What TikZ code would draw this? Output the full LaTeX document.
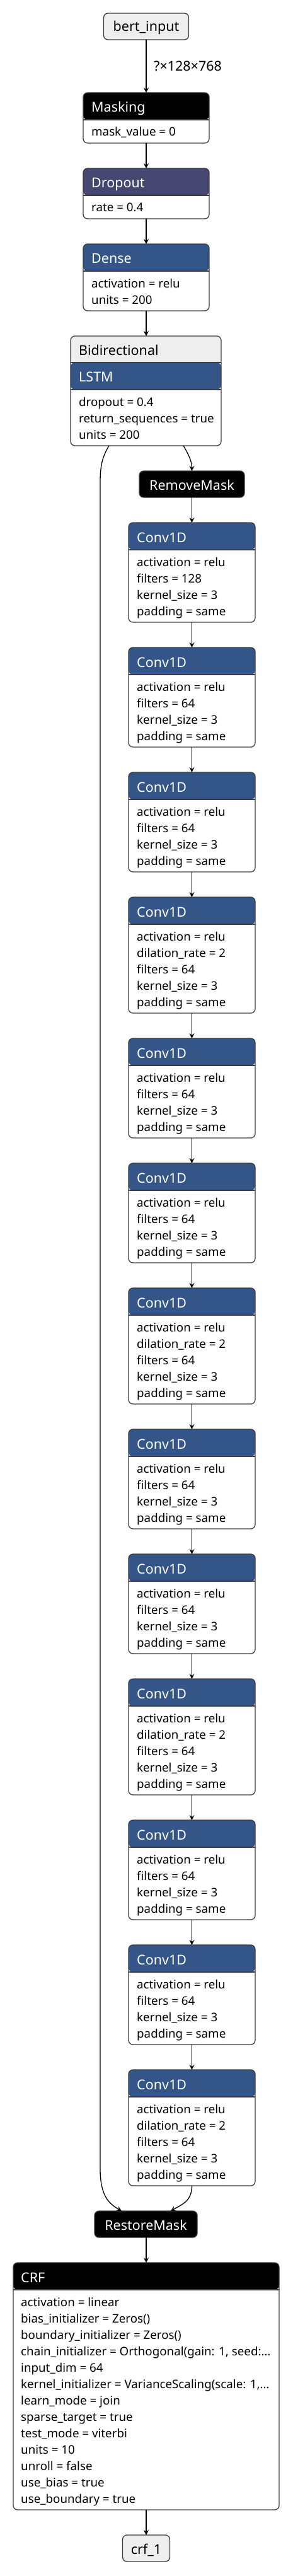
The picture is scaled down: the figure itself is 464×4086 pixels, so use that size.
\documentclass[tikz,border=0pt]{standalone}
\usepackage{fontspec}
\setmainfont{Noto Sans}
\usetikzlibrary{arrows.meta}
\definecolor{netblue}{RGB}{51,85,136}
\definecolor{netpurple}{RGB}{69,71,112}
\definecolor{netgray}{RGB}{238,238,238}
\definecolor{netborder}{RGB}{60,60,60}
\tikzset{
  box/.style={draw=netborder, line width=1.3pt, rounded corners=7pt, fill=white, inner sep=0pt, outer sep=0pt},
  hdr/.style 2 args={path picture={
      \fill[#1] (path picture bounding box.north west) rectangle ([yshift=-#2]path picture bounding box.north east);
      \draw[netborder, line width=1.3pt] ([yshift=-#2]path picture bounding box.north west) -- ([yshift=-#2]path picture bounding box.north east);}},
  bidihdr/.style={path picture={
      \fill[netgray] (path picture bounding box.north west) rectangle ([yshift=-42pt]path picture bounding box.north east);
      \fill[netblue] ([yshift=-42pt]path picture bounding box.north west) rectangle ([yshift=-85pt]path picture bounding box.north east);
      \draw[netborder, line width=1.3pt] ([yshift=-42pt]path picture bounding box.north west) -- ([yshift=-42pt]path picture bounding box.north east);
      \draw[netborder, line width=1.3pt] ([yshift=-85pt]path picture bounding box.north west) -- ([yshift=-85pt]path picture bounding box.north east);}},
  head/.style={anchor=base west, font=\fontsize{21.5}{24}\selectfont, inner sep=0pt},
  chead/.style={anchor=base, font=\fontsize{21.5}{24}\selectfont, inner sep=0pt},
  body/.style={anchor=base west, font=\fontsize{18.75}{22}\selectfont, inner sep=0pt, text=black},
  edge/.style={draw=black, line width=1.3pt, -{Stealth[length=8pt,width=8pt,inset=3pt]}},
}
\begin{document}
\begin{tikzpicture}[x=1pt,y=-1pt]
\fill[white] (0,0) rectangle (464,4086);
\useasboundingbox (0,0) rectangle (464,4086);

% bert_input
\node[box, fill=netgray, minimum width=135pt, minimum height=42pt] (bert) at (232,42) {};
\node[chead] (bert-t) at (232,50) {bert\_input};

% Masking
\node[box, minimum width=200pt, minimum height=80pt, hdr={black}{43pt}] (mask) at (232,187) {};
\node[head, text=white] (mask-h) at (145,177.5) {Masking};
\node[body] (mask-l0) at (145,216) {mask\_value = 0};

% Dropout
\node[box, minimum width=200pt, minimum height=80pt, hdr={netpurple}{43pt}] (drop) at (232,307) {};
\node[head, text=white] (drop-h) at (145,297.5) {Dropout};
\node[body] (drop-l0) at (145,336) {rate = 0.4};

% Dense
\node[box, minimum width=200pt, minimum height=106pt, hdr={netblue}{43pt}] (dense) at (232,440) {};
\node[head, text=white] (dense-h) at (145,417.5) {Dense};
\node[body] (dense-l0) at (145,456) {activation = relu};
\node[body] (dense-l1) at (145,482) {units = 200};

% Bidirectional
\node[box, minimum width=239pt, minimum height=174pt, bidihdr] (bidi) at (231.5,620) {};
\node[head] (bidi-h) at (125,563.5) {Bidirectional};
\node[head, text=white] (bidi-h2) at (125,605.5) {LSTM};
\node[body] (bidi-l0) at (125,644) {dropout = 0.4};
\node[body] (bidi-l1) at (125,670) {return\_sequences = true};
\node[body] (bidi-l2) at (125,696) {units = 200};

% RemoveMask
\node[box, fill=black, minimum width=167pt, minimum height=42pt] (rmv) at (304.5,768) {};
\node[chead, text=white] (rmv-t) at (304.5,777) {RemoveMask};

% Conv1D stack
\foreach \i/\top/\n in {1/829/4,2/1027/4,3/1225/4,4/1423/5,5/1647/4,6/1845/4,7/2043/5,8/2267/4,9/2465/4,10/2663/5,11/2887/4,12/3085/4,13/3283/5} {
  \pgfmathsetmacro\hh{54+26*\n}
  \pgfmathsetmacro\cy{\top+\hh/2}
  \node[box, minimum width=201pt, minimum height=\hh pt, hdr={netblue}{43pt}] (c\i) at (304.5,\cy) {};
  \node[head, text=white] (c\i-h) at (217,\top+31) {Conv1D};
  \ifnum\i=1 \def\fl{128}\else\def\fl{64}\fi
  \ifnum\n=5
    \node[body] (c\i-l0) at (217,\top+69) {activation = relu};
    \node[body] (c\i-l1) at (217,\top+95) {dilation\_rate = 2};
    \node[body] (c\i-l2) at (217,\top+121) {filters = \fl};
    \node[body] (c\i-l3) at (217,\top+147) {kernel\_size = 3};
    \node[body] (c\i-l4) at (217,\top+173) {padding = same};
  \else
    \node[body] (c\i-l0) at (217,\top+69) {activation = relu};
    \node[body] (c\i-l1) at (217,\top+95) {filters = \fl};
    \node[body] (c\i-l2) at (217,\top+121) {kernel\_size = 3};
    \node[body] (c\i-l3) at (217,\top+147) {padding = same};
  \fi
}

% RestoreMask
\node[box, fill=black, minimum width=163pt, minimum height=42pt] (rest) at (231.5,3528) {};
\node[chead, text=white] (rest-t) at (231.5,3537) {RestoreMask};

% CRF
\node[box, minimum width=422pt, minimum height=392pt, hdr={black}{43pt}] (crf) at (232,3785) {};
\node[head, text=white] (crf-h) at (33,3620) {CRF};
\foreach \t [count=\k from 0] in {activation = linear, bias\_initializer = Zeros(), boundary\_initializer = Zeros(), {chain\_initializer = Orthogonal(gain: 1, seed:…}, input\_dim = 64, {kernel\_initializer = VarianceScaling(scale: 1,…}, learn\_mode = join, sparse\_target = true, test\_mode = viterbi, units = 10, unroll = false, use\_bias = true, use\_boundary = true} {
  \node[body] (crf-l\k) at (33,3658+26*\k) {\t};
}

% crf_1
\node[box, fill=netgray, minimum width=75pt, minimum height=42pt] (out) at (232,4042) {};
\node[chead] (out-t) at (232,4051) {crf\_1};

% edges
\draw[edge] (bert.south) -- (mask.north);
\node[chead, anchor=base west] (shape) at (244,113) {?×128×768};
\draw[edge] (mask.south) -- (drop.north);
\draw[edge] (drop.south) -- (dense.north);
\draw[edge] (dense.south) -- (bidi.north -| dense.south);
\draw[edge] ([xshift=179pt]bidi.south west) .. controls (300,722) and (304.5,732) .. (rmv.north);
\draw[edge] (rmv.south) -- (c1.north);
\foreach \i [evaluate=\i as \j using int(\i+1)] in {1,...,12} {
  \draw[edge] (c\i.south) -- (c\j.north);
}
\draw[edge] ([xshift=61pt]bidi.south west) .. controls (162,725) and (159,740) .. (159,765) -- (159,3440) .. controls (159,3482) and (172,3495) .. ([xshift=43pt]rest.north west);
\draw[edge] (c13.south) .. controls (304.5,3492) and (288,3497) .. ([xshift=121pt]rest.north west);
\draw[edge] (rest.south -| crf.north) -- (crf.north);
\draw[edge] (crf.south) -- (out.north);
\end{tikzpicture}
\end{document}
